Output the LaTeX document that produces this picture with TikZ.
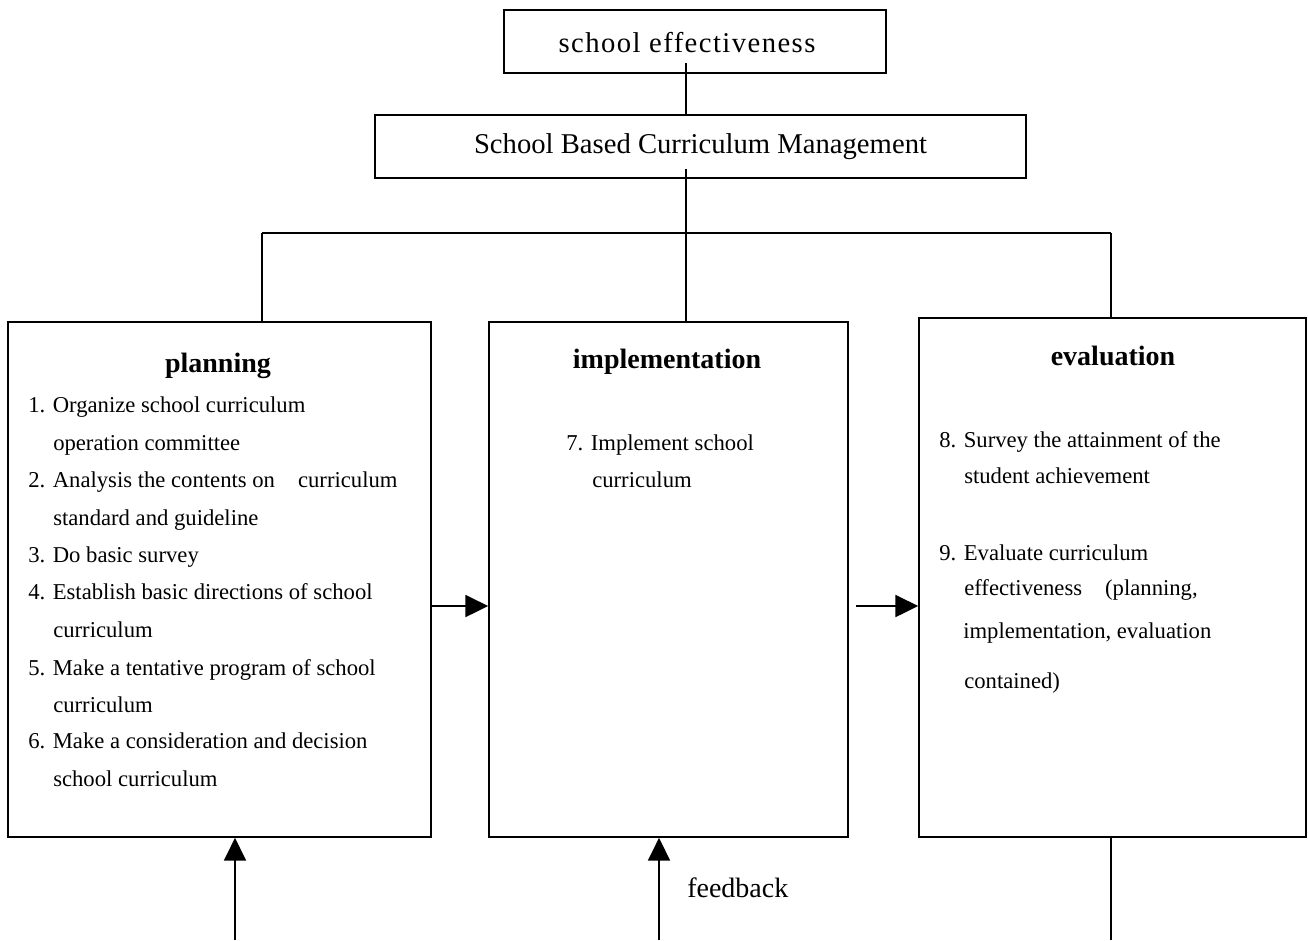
\documentclass[tikz,border=0pt]{standalone}
\usepackage{fontspec}
\setmainfont{Liberation Serif}
\usetikzlibrary{arrows.meta}
\begin{document}
\begin{tikzpicture}[x=0.75pt,y=-0.75pt,
  box/.style={draw,line width=1.3pt,rectangle,inner sep=0pt},
  conn/.style={line width=1.3pt},
  arr/.style={conn,-{Triangle[length=17pt,width=16.5pt]}},
  body/.style={inner sep=0pt,anchor=base west,font=\fontsize{17}{20}\selectfont},
  head/.style={inner sep=0pt,anchor=base,font=\fontsize{21}{24}\selectfont\bfseries},
  topt/.style={inner sep=0pt,anchor=base,font=\fontsize{21.5}{25}\selectfont}]
\useasboundingbox (0,0) rectangle (1308,940);

% boxes
\node[box,minimum width=286.5pt,minimum height=47.25pt] (se) at (695,41.5) {};
\node[topt] (setxt) at (687,52) {\addfontfeatures{LetterSpace=5}school effectiveness};
\node[box,minimum width=488.25pt,minimum height=47.25pt,
      font=\fontsize{21.5}{25}\selectfont] (sbcm) at (700.5,146.5) {School Based Curriculum Management};
\node[box,minimum width=317.25pt,minimum height=386.25pt] (plan) at (219.5,579.5) {};
\node[box,minimum width=269.25pt,minimum height=386.25pt] (impl) at (668.5,579.5) {};
\node[box,minimum width=290.25pt,minimum height=389.25pt] (eval) at (1112.5,577.5) {};

% titles
\node[head] (tplan) at (218,372) {planning};
\node[head] (timpl) at (667,368) {implementation};
\node[head] (teval) at (1113,365) {evaluation};

% planning items
\node[body] (p1)  at (28,412) {1. Organize school curriculum};
\node[body] (p2)  at (53,450) {operation committee};
\node[body] (p3)  at (28,487) {2. Analysis the contents on\hspace{13pt} curriculum};
\node[body] (p4)  at (53,525) {standard and guideline};
\node[body] (p5)  at (28,562) {3. Do basic survey};
\node[body] (p6)  at (28,599) {4. Establish basic directions of school};
\node[body] (p7)  at (53,637) {curriculum};
\node[body] (p8)  at (28,675) {5. Make a tentative program of school};
\node[body] (p9)  at (53,712) {curriculum};
\node[body] (p10) at (28,748) {6. Make a consideration and decision};
\node[body] (p11) at (53,786) {school curriculum};

% implementation items
\node[body] (i1) at (566,450) {7. Implement school};
\node[body] (i2) at (592,487) {curriculum};

% evaluation items
\node[body] (e1) at (939,447) {8. Survey the attainment of the};
\node[body] (e2) at (964,483) {student achievement};
\node[body] (e3) at (939,560) {9. Evaluate curriculum};
\node[body] (e4) at (964,595) {effectiveness\hspace{13pt} (planning,};
\node[body] (e5) at (963,638) {implementation, evaluation};
\node[body] (e6) at (964,688) {contained)};

% feedback label
\node[inner sep=0pt,anchor=base west,font=\fontsize{21}{24}\selectfont] (fb) at (687,897) {feedback};

% connector coordinates
\coordinate (busL) at (262,233);
\coordinate (busM) at (686,233);
\coordinate (busR) at (1111,233);
\coordinate (mid) at (0,606);
\coordinate (a2s) at (856,606);
\coordinate (b1) at (235,940);
\coordinate (b2) at (659,940);
\coordinate (b3) at (1111,940);

% hierarchy connectors
\draw[conn] (se.south -| busM) ++(0,-11) -- (sbcm.north -| busM);
\draw[conn] (sbcm.south -| busM) ++(0,-10) -- (busM);
\draw[conn] (busL) -- (busR);
\draw[conn] (busL) -- (plan.north -| busL);
\draw[conn] (busM) -- (impl.north -| busM);
\draw[conn] (busR) -- (eval.north -| busR);

% flow arrows
\draw[arr] (plan.east |- mid) -- (impl.west |- mid);
\draw[arr] (a2s) -- (eval.west |- a2s);
\draw[arr] (b1) -- (b1 |- plan.south);
\draw[arr] (b2) -- (b2 |- impl.south);
\draw[conn] (b3 |- eval.south) -- (b3);
\end{tikzpicture}
\end{document}
